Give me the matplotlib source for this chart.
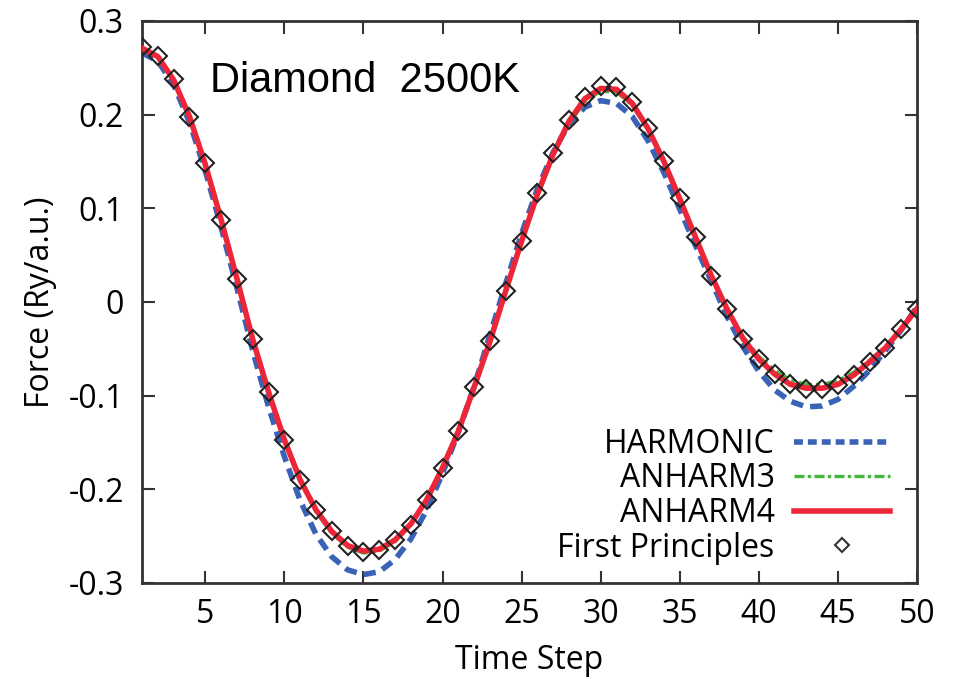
import numpy as np
import matplotlib
matplotlib.use("Agg")
import matplotlib.pyplot as plt
from matplotlib.lines import Line2D

# time steps and forces (Ry/a.u.)
steps = list(range(1, 51))

first_principles = [
    0.272, 0.263, 0.238, 0.198, 0.148, 0.088, 0.025, -0.040, -0.096, -0.147,
    -0.190, -0.222, -0.245, -0.260, -0.267, -0.265, -0.254, -0.238, -0.211, -0.177,
    -0.138, -0.091, -0.042, 0.012, 0.065, 0.116, 0.159, 0.194, 0.219, 0.231,
    0.229, 0.213, 0.186, 0.151, 0.111, 0.069, 0.028, -0.008, -0.039, -0.061,
    -0.077, -0.088, -0.093, -0.093, -0.089, -0.078, -0.064, -0.049, -0.029, -0.007,
]

anharm4 = [
    0.271, 0.262, 0.237, 0.198, 0.147, 0.088, 0.025, -0.040, -0.096, -0.147,
    -0.190, -0.222, -0.245, -0.260, -0.266, -0.264, -0.254, -0.237, -0.211, -0.177,
    -0.138, -0.091, -0.042, 0.012, 0.065, 0.115, 0.158, 0.193, 0.217, 0.228,
    0.227, 0.212, 0.185, 0.150, 0.110, 0.069, 0.028, -0.008, -0.039, -0.061,
    -0.077, -0.088, -0.092, -0.092, -0.088, -0.078, -0.064, -0.049, -0.029, -0.007,
]

anharm3 = [
    0.271, 0.262, 0.237, 0.197, 0.146, 0.087, 0.024, -0.041, -0.097, -0.148,
    -0.191, -0.224, -0.247, -0.262, -0.268, -0.266, -0.256, -0.238, -0.211, -0.177,
    -0.138, -0.091, -0.042, 0.012, 0.064, 0.114, 0.156, 0.190, 0.214, 0.225,
    0.224, 0.210, 0.184, 0.150, 0.110, 0.069, 0.028, -0.007, -0.037, -0.058,
    -0.073, -0.083, -0.088, -0.088, -0.084, -0.075, -0.062, -0.048, -0.029, -0.007,
]

harmonic = [
    0.266, 0.257, 0.232, 0.192, 0.140, 0.080, 0.015, -0.052, -0.112, -0.165,
    -0.212, -0.248, -0.272, -0.286, -0.291, -0.288, -0.275, -0.253, -0.222, -0.183,
    -0.139, -0.090, -0.035, 0.020, 0.073, 0.121, 0.160, 0.190, 0.208, 0.215,
    0.212, 0.198, 0.172, 0.138, 0.099, 0.060, 0.022, -0.016, -0.048, -0.074,
    -0.094, -0.106, -0.112, -0.111, -0.104, -0.090, -0.073, -0.052, -0.030, -0.005,
]

tick_font = "Open Sans"
fs = 23

fig = plt.figure(figsize=(9.57, 6.79), dpi=100)
ax = fig.add_axes([0.1484, 0.1414, 0.8098, 0.8277])

blue = "#3a63b8"
green = "#45b53c"
red = "#ec2638"

ax.plot(steps, harmonic, color=blue, lw=4.0, ls=(0, (2.2, 1.3)), zorder=2)
ax.plot(steps, anharm3, color=green, lw=2.4, ls=(0, (4, 1.2, 1.2, 1.2)), zorder=3)
ax.plot(steps, anharm4, color=red, lw=4.0, zorder=4)
ax.plot(steps, first_principles, ls="none", marker="D", ms=9, mfc="none",
        mec="#222222", mew=1.5, zorder=5)

ax.set_xlim(1, 50)
ax.set_ylim(-0.3, 0.3)
ax.set_xticks(range(5, 51, 5))
ax.set_yticks([-0.3, -0.2, -0.1, 0, 0.1, 0.2, 0.3])
ax.set_yticklabels(["-0.3", "-0.2", "-0.1", "0", "0.1", "0.2", "0.3"])

ax.tick_params(direction="in", length=9, width=1.5, top=True, right=True,
               color="#333333", labelsize=fs)
ax.tick_params(axis="x", pad=11)
ax.tick_params(axis="y", pad=13)
for lab in ax.get_xticklabels() + ax.get_yticklabels():
    lab.set_fontfamily(tick_font)
for sp in ax.spines.values():
    sp.set_linewidth(2)
    sp.set_color("#333333")

ax.set_xlabel("Time Step", fontsize=fs, family=tick_font, labelpad=9)
ax.set_ylabel("Force (Ry/a.u.)", fontsize=fs, family=tick_font, labelpad=8)

ax.text(0.0877, 0.874, "Diamond  2500K", transform=ax.transAxes,
        fontsize=30, family="Liberation Sans", va="baseline", ha="left")

handles = [
    Line2D([], [], color=blue, lw=4.0, ls=(0, (1.6, 0.9))),
    Line2D([], [], color=green, lw=2.4, ls=(0, (3, 1, 1, 1))),
    Line2D([], [], color=red, lw=4.0),
    Line2D([], [], ls="none", marker="D", ms=7, mfc="white", mec="#333333", mew=1.5),
]
labels = ["HARMONIC", "ANHARM3", "ANHARM4", "First Principles"]
ax.legend(handles, labels, loc="lower right", frameon=False, markerfirst=False,
          prop={"family": tick_font, "size": fs}, handlelength=3.0,
          handletextpad=0.6, labelspacing=0.05, borderaxespad=0.46,
          bbox_to_anchor=(1.0, -0.016))

fig.savefig("out.png", dpi=100)
